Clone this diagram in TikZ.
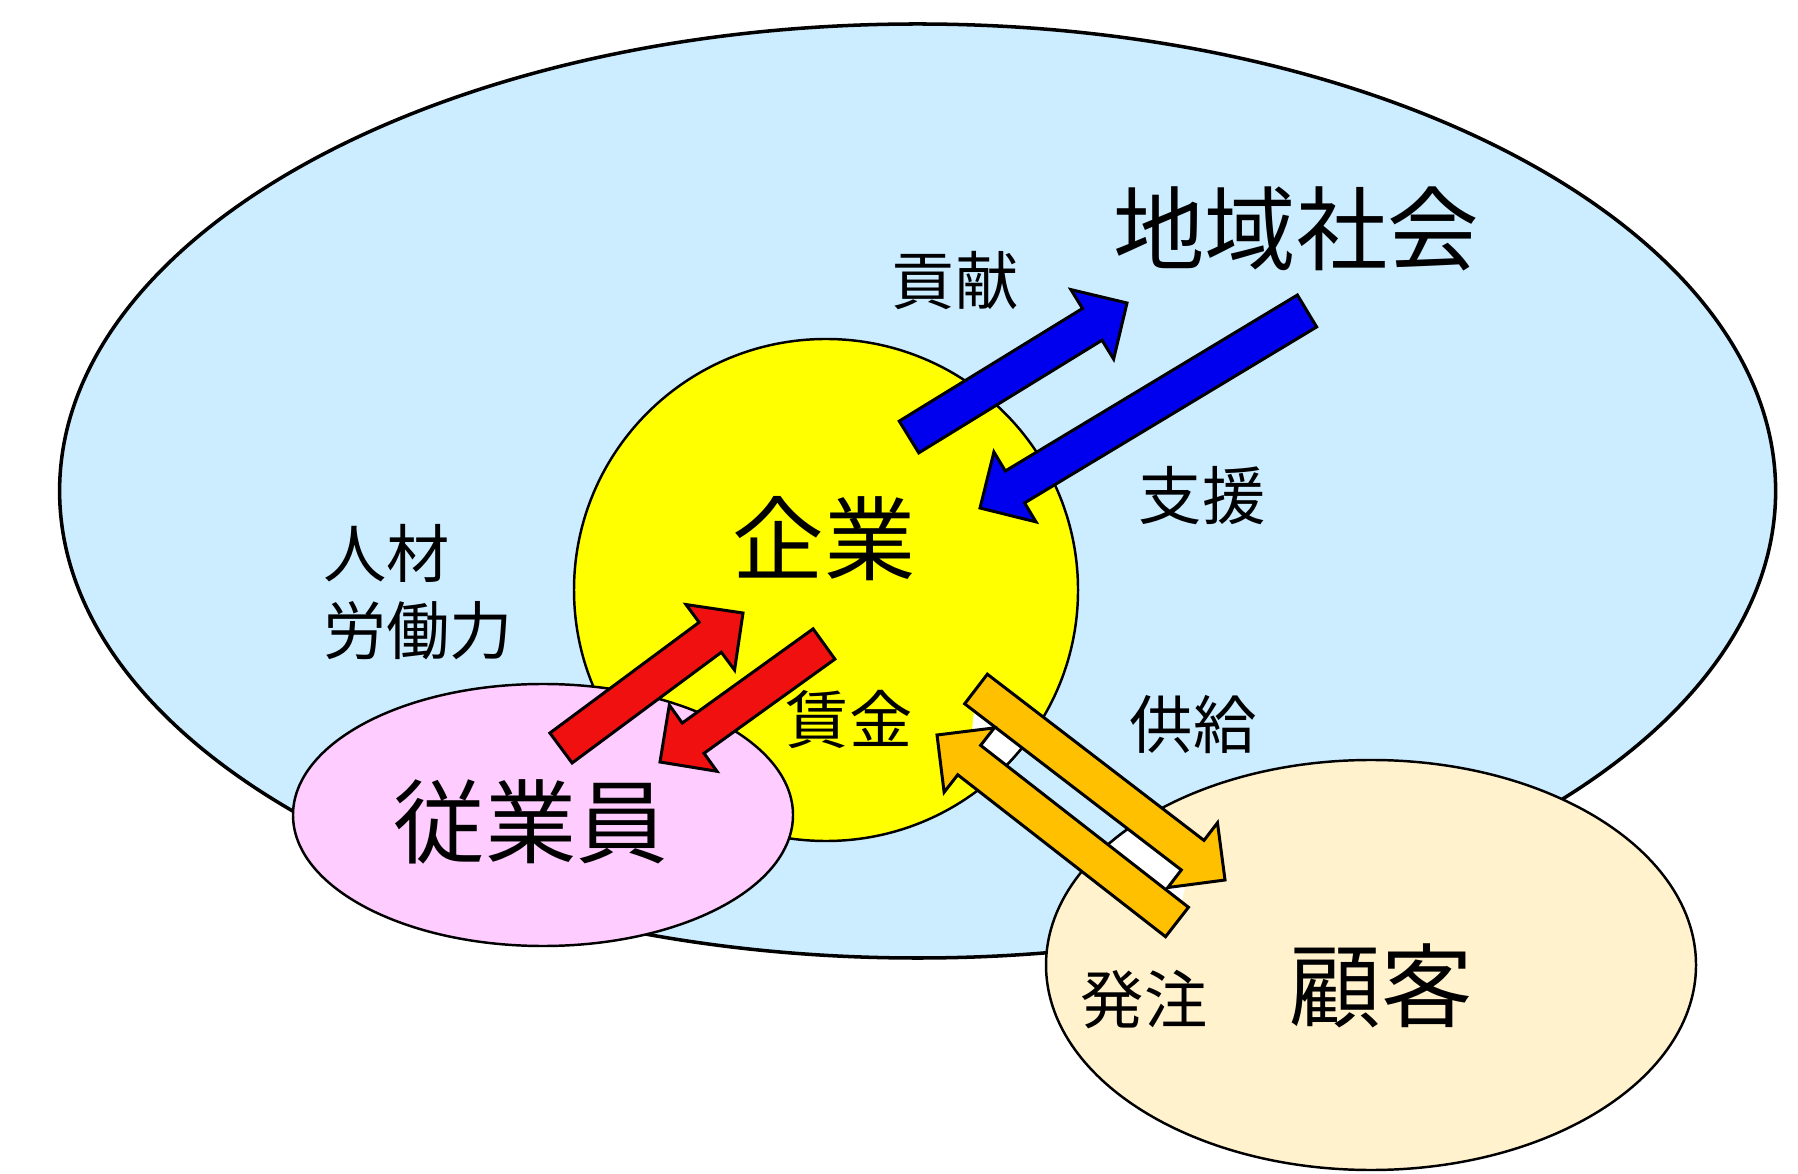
\documentclass[tikz,border=0pt]{standalone}
\usepackage{fontspec}
\newfontfamily\jp{Noto Sans CJK JP}
\usetikzlibrary{calc}
\definecolor{skyfill}{HTML}{CCECFF}
\definecolor{yellowfill}{HTML}{FFFF00}
\definecolor{pinkfill}{HTML}{FFCCFF}
\definecolor{beigefill}{HTML}{FFF2CC}
\definecolor{bluearrow}{HTML}{0000EE}
\definecolor{redarrow}{HTML}{F01010}
\definecolor{orangearrow}{HTML}{FFC000}
\newcommand\arrsw{5.3pt}
\newcommand\arrhw{11.6pt}
\newcommand\arrhl{11.6pt}
% #1 style, #2 tail coordinate, #3 tip coordinate
\newcommand\blockarrow[3]{%
  \coordinate (#2-h) at ($(#3)!\arrhl!(#2)$);
  \draw[#1] ($(#2)!\arrsw!90:(#3)$) -- ($(#2-h)!\arrsw!-90:(#2)$) -- ($(#2-h)!\arrhw!-90:(#2)$) -- (#3)
    -- ($(#2-h)!\arrhw!90:(#2)$) -- ($(#2-h)!\arrsw!90:(#2)$) -- ($(#2)!\arrsw!-90:(#3)$) -- cycle;
}
\begin{document}
\begin{tikzpicture}[x=0.01cm,y=-0.01cm,line width=0.7pt,line join=miter,
  bigtext/.style={font=\jp\fontsize{26}{30}\selectfont},
  smalltext/.style={font=\jp\fontsize{18}{22}\selectfont},
  arrowblue/.style={draw=black,fill=bluearrow,line width=0.85pt},
  arrowred/.style={draw=black,fill=redarrow,line width=0.85pt},
  arroworange/.style={draw=black,fill=orangearrow,line width=0.85pt}]
\useasboundingbox (0,0) rectangle (1798,1174);
\fill[white] (0,0) rectangle (1798,1174);

% regions
\draw[fill=skyfill,line width=1pt] (917.6,491) ellipse [x radius=858, y radius=467];
\draw[fill=yellowfill] (826,590) ellipse [x radius=252, y radius=251];
\draw[fill=pinkfill] (543,815) ellipse [x radius=250, y radius=131];
\draw[fill=beigefill] (1371,965) ellipse [x radius=325, y radius=205];

% arrow coordinates
\coordinate (kt) at (909,437);  \coordinate (kh) at (1127,303);
\coordinate (st) at (1307,311); \coordinate (sh) at (980,508);
\coordinate (jt) at (561,748);  \coordinate (jh) at (743,613);
\coordinate (ct) at (824,644);  \coordinate (ch) at (660,762);
\coordinate (yt) at (976,689);  \coordinate (yh) at (1225,880);
\coordinate (ht) at (1177,922); \coordinate (hh) at (937,735);

% white strip between the orange arrows
\coordinate (yb) at ($(yh)!\arrhl!(yt)$);
\coordinate (hb) at ($(hh)!\arrhl!(ht)$);
\begin{scope}
  \clip (826,590) ellipse [x radius=252, y radius=251];
  \fill[white] (yt) -- (yb) -- (ht) -- (hb) -- cycle;
\end{scope}
\begin{scope}
  \clip (1371,965) ellipse [x radius=325, y radius=205];
  \fill[white] (yt) -- (yb) -- (ht) -- (hb) -- cycle;
\end{scope}
\begin{scope}
  \clip (yt) -- (yb) -- (ht) -- (hb) -- cycle;
  \draw (826,590) ellipse [x radius=252, y radius=251];
  \draw (1371,965) ellipse [x radius=325, y radius=205];
\end{scope}

% arrows
\blockarrow{arrowblue}{kt}{kh}
\blockarrow{arrowblue}{st}{sh}
\blockarrow{arrowred}{jt}{jh}
\blockarrow{arrowred}{ct}{ch}
\blockarrow{arroworange}{yt}{yh}
\blockarrow{arroworange}{ht}{hh}

% labels
\node[bigtext] (chiiki) at (1296,229) {地域社会};
\node[smalltext] (kouken) at (955,281) {貢献};
\node[smalltext] (shien) at (1202,496) {支援};
\node[bigtext] (kigyo) at (824,539) {企業};
\node[smalltext,align=left] (jinzai) at (418,592) {人材\\労働力};
\node[smalltext] (chingin) at (849,720) {賃金};
\node[smalltext] (kyokyu) at (1193,725) {供給};
\node[bigtext] (jugyoin) at (531,822) {従業員};
\node[smalltext] (hatchu) at (1144,1000) {発注};
\node[bigtext] (kokyaku) at (1381,986) {顧客};
\end{tikzpicture}
\end{document}
